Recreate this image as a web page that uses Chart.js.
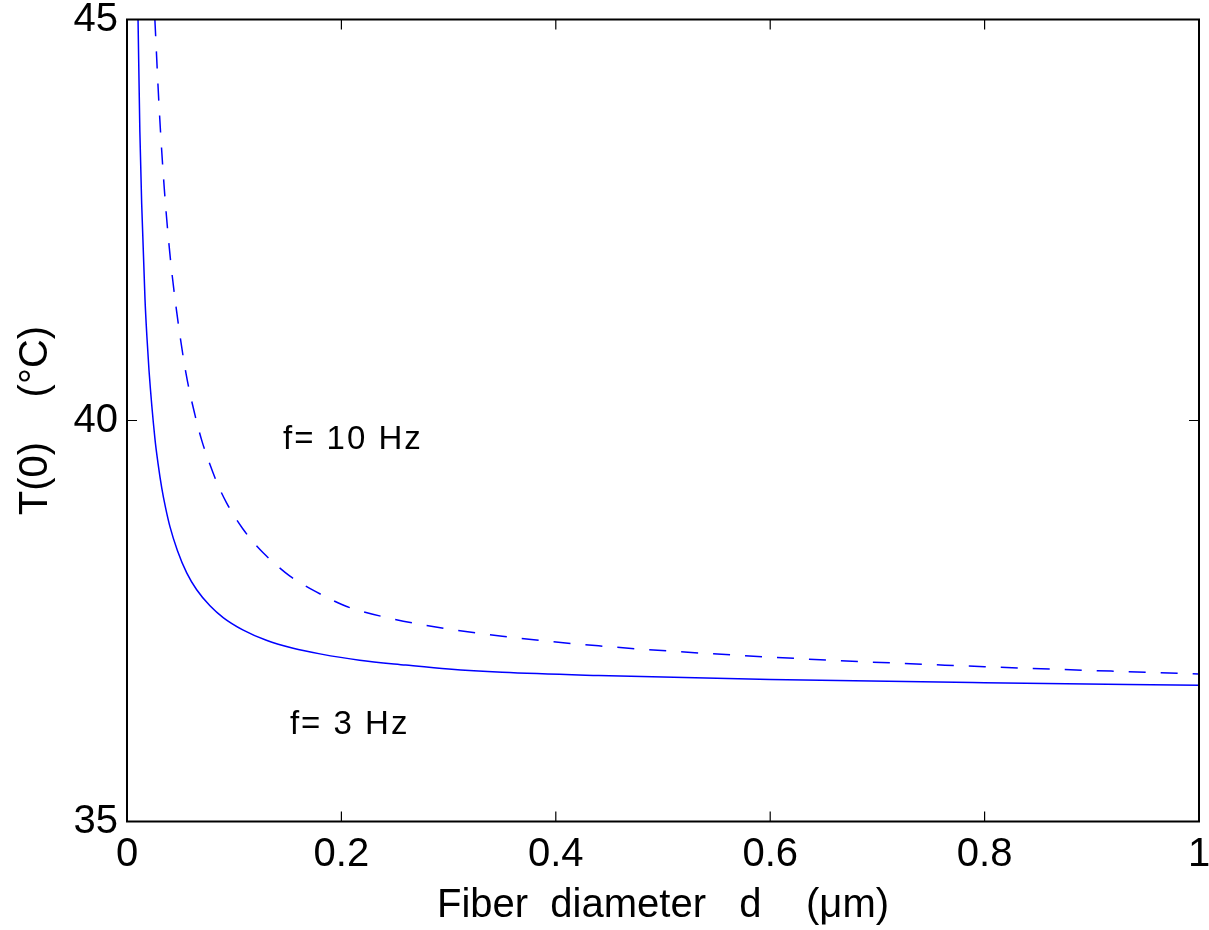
<!DOCTYPE html>
<html>
<head>
<meta charset="utf-8">
<script src="https://cdn.jsdelivr.net/npm/chart.js@4/dist/chart.umd.min.js"></script>
<style>
    body { margin: 0; background: #fff; }
    #wrap { width: 1209px; height: 930px; }
</style>
</head>
<body>
<div id="wrap"><canvas id="tempChart" width="1209" height="930"></canvas></div>
<script>
// Fiber diameter d (um) and T(0) (deg C)
const d3Hz = [0.0103, 0.012, 0.0137, 0.0168, 0.0185, 0.0205, 0.026, 0.029, 0.0324, 0.036, 0.040, 0.047, 0.0557, 0.065, 0.0774, 0.09, 0.108, 0.13, 0.155, 0.18, 0.217, 0.26, 0.30, 0.35, 0.44, 0.60, 0.80, 1.0];
const t3Hz = [45.0, 43.60, 42.70, 41.51, 41.06, 40.63, 39.78, 39.46, 39.16, 38.91, 38.68, 38.38, 38.10, 37.89, 37.69, 37.54, 37.39, 37.26, 37.16, 37.09, 37.01, 36.95, 36.90, 36.86, 36.82, 36.77, 36.73, 36.70];

const d10Hz = [0.026, 0.030, 0.0348, 0.040, 0.0463, 0.055, 0.0634, 0.070, 0.0774, 0.085, 0.093, 0.100, 0.108, 0.118, 0.127, 0.140, 0.152, 0.165, 0.177, 0.190, 0.205, 0.25, 0.30, 0.35, 0.44, 0.60, 0.80, 1.0];
const t10Hz = [45.0, 43.90, 42.89, 42.08, 41.36, 40.59, 40.07, 39.74, 39.45, 39.19, 38.97, 38.81, 38.65, 38.48, 38.35, 38.19, 38.06, 37.95, 37.86, 37.77, 37.68, 37.52, 37.40, 37.31, 37.19, 37.05, 36.93, 36.84];

const xTicks = [0, 0.2, 0.4, 0.6, 0.8, 1];
const yTicks = [35, 40, 45];

// text annotations placed in data coordinates
const notes = [
    { text: 'f= 10 Hz', x: 0.1455, y: 39.76 },
    { text: 'f= 3 Hz', x: 0.152, y: 36.20 }
];

const FONT = 'Liberation Sans, Arial, Helvetica, sans-serif';

function toPoints(xs, ys) {
    return xs.map((x, i) => ({ x: x, y: ys[i] }));
}

// box around the axes with inward ticks on all four sides, plus the labels
const framePlugin = {
    id: 'frame',
    afterDraw(chart) {
        const ctx = chart.ctx;
        const a = chart.chartArea;
        const xs = chart.scales.x, ys = chart.scales.y;
        ctx.save();
        ctx.strokeStyle = '#000';
        ctx.lineWidth = 2;
        ctx.strokeRect(a.left, a.top, a.right - a.left, a.bottom - a.top);
        ctx.lineWidth = 1.2;
        ctx.beginPath();
        xTicks.forEach(v => {
            const px = xs.getPixelForValue(v);
            ctx.moveTo(px, a.bottom); ctx.lineTo(px, a.bottom - 10);
            ctx.moveTo(px, a.top); ctx.lineTo(px, a.top + 10);
        });
        yTicks.forEach(v => {
            const py = ys.getPixelForValue(v);
            ctx.moveTo(a.left, py); ctx.lineTo(a.left + 10, py);
            ctx.moveTo(a.right, py); ctx.lineTo(a.right - 10, py);
        });
        ctx.stroke();

        ctx.fillStyle = '#000';
        ctx.font = '33px ' + FONT;
        ctx.letterSpacing = '2px';
        ctx.textAlign = 'left';
        ctx.textBaseline = 'middle';
        notes.forEach(n => {
            ctx.fillText(n.text, xs.getPixelForValue(n.x), ys.getPixelForValue(n.y));
        });
        ctx.restore();
    }
};

const ctx = document.getElementById('tempChart').getContext('2d');
const chart = new Chart(ctx, {
    type: 'scatter',
    data: {
        datasets: [
            {
                label: 'f= 3 Hz',
                data: toPoints(d3Hz, t3Hz),
                showLine: true,
                borderColor: '#0000ff',
                borderWidth: 1.5,
                pointRadius: 0,
                cubicInterpolationMode: 'monotone'
            },
            {
                label: 'f= 10 Hz',
                data: toPoints(d10Hz, t10Hz),
                showLine: true,
                borderColor: '#0000ff',
                borderWidth: 1.5,
                borderDash: [17, 15],
                pointRadius: 0,
                cubicInterpolationMode: 'monotone'
            }
        ]
    },
    options: {
        responsive: false,
        animation: false,
        devicePixelRatio: 1,
        layout: { padding: { top: 19.5, right: 10, left: 0, bottom: 0 } },
        plugins: {
            legend: { display: false },
            tooltip: { enabled: false }
        },
        scales: {
            x: {
                type: 'linear',
                min: 0,
                max: 1,
                afterBuildTicks: s => { s.ticks = xTicks.map(v => ({ value: v })); },
                afterFit: s => { s.height = 108.5; s.paddingLeft = 0; s.paddingRight = 0; },
                grid: { display: false, drawTicks: false },
                border: { display: false },
                ticks: {
                    color: '#000', padding: 9, maxRotation: 0,
                    font: { family: FONT, size: 40 },
                    callback: v => String(v)
                },
                title: {
                    display: true,
                    text: 'Fiber  diameter   d    (μm)',
                    color: '#000',
                    font: { family: FONT, size: 40 },
                    padding: { top: 6, bottom: 0 }
                }
            },
            y: {
                type: 'linear',
                min: 35,
                max: 45,
                afterBuildTicks: s => { s.ticks = yTicks.map(v => ({ value: v })); },
                afterFit: s => { s.width = 127; s.paddingTop = 0; s.paddingBottom = 0; },
                grid: { display: false, drawTicks: false },
                border: { display: false },
                ticks: {
                    color: '#000', padding: 9,
                    font: { family: FONT, size: 40 },
                    callback: v => String(v)
                },
                title: {
                    display: true,
                    text: 'T(0)    (°C)',
                    color: '#000',
                    font: { family: FONT, size: 40 },
                    padding: { top: 12, bottom: 0 }
                }
            }
        }
    },
    plugins: [framePlugin]
});
</script>
</body>
</html>
